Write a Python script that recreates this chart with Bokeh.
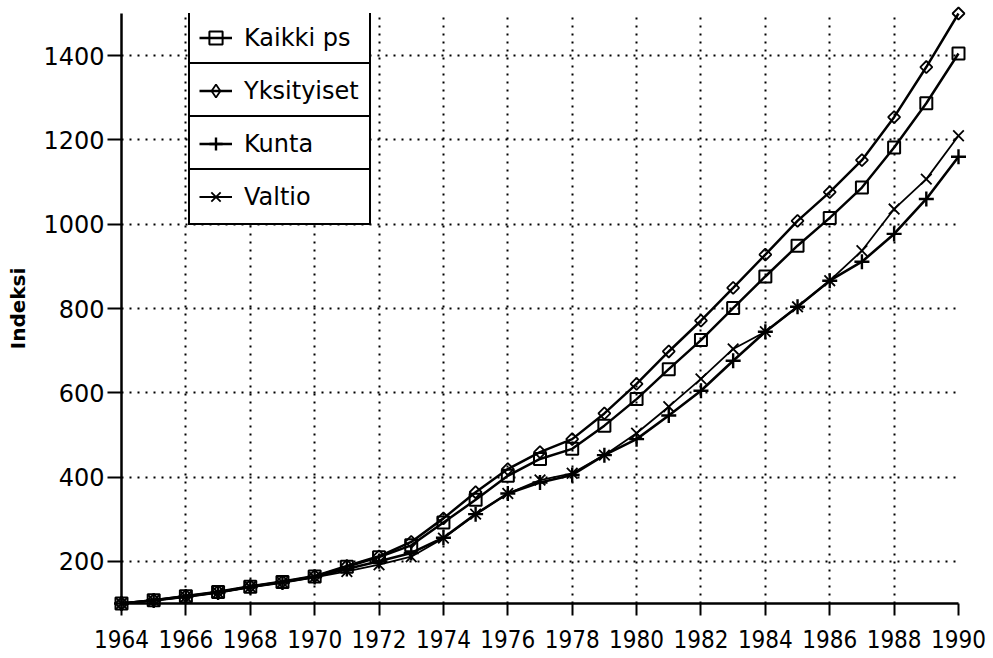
from bokeh.plotting import figure
from bokeh.models import Range1d, FixedTicker, Legend, LegendItem, ColumnDataSource
from bokeh.embed import file_html
from bokeh.resources import INLINE
import math

years = list(range(1964, 1991))
kaikki = [100, 108, 117, 127, 140, 151, 164, 187, 210, 238, 292, 346, 403, 443, 467,
          522, 585, 656, 725, 801, 876, 949, 1015, 1087, 1182, 1287, 1405]
yksityiset = [100, 108, 118, 128, 141, 152, 165, 189, 212, 246, 302, 364, 419, 459, 490,
              551, 621, 698, 771, 849, 928, 1008, 1076, 1152, 1254, 1373, 1500]
kunta = [100, 107, 116, 126, 139, 150, 163, 182, 200, 220, 256, 312, 361, 387, 405,
         452, 490, 546, 605, 676, 745, 804, 866, 911, 977, 1060, 1160]
valtio = [100, 107, 116, 126, 139, 150, 162, 176, 192, 211, 255, 312, 361, 393, 409,
          452, 504, 567, 633, 704, 745, 804, 866, 937, 1036, 1107, 1210]

x_ticks = [1964, 1966, 1968, 1970, 1972, 1974, 1976, 1978, 1980, 1982, 1984, 1986, 1988, 1990]
y_ticks = [200, 400, 600, 800, 1000, 1200, 1400]
labels = ["Kaikki ps", "Yksityiset", "Kunta", "Valtio"]
y_label = "Indeksi"

p = figure(width=990, height=655, output_backend="svg", toolbar_location=None,
           x_range=Range1d(1964, 1990), y_range=Range1d(100, 1500),
           min_border_left=121, min_border_right=32, min_border_top=13, min_border_bottom=52)
p.outline_line_color = None
p.background_fill_color = "white"

# axes
p.xaxis.ticker = FixedTicker(ticks=x_ticks)
p.yaxis.ticker = FixedTicker(ticks=y_ticks)
for ax in (p.xaxis, p.yaxis):
    ax.axis_line_color = "black"
    ax.axis_line_width = 2.5
    ax.major_tick_line_color = "black"
    ax.major_tick_line_width = 2
    ax.major_tick_in = 0
    ax.minor_tick_line_color = None
p.xaxis.major_tick_out = 12
p.yaxis.major_tick_out = 14
p.xaxis.major_label_text_font = "'DejaVu Sans Condensed', Roboto, sans-serif"
p.xaxis.major_label_text_font_size = "24px"
p.xaxis.major_label_standoff = 14
p.yaxis.major_label_text_font = "DejaVu Sans"
p.yaxis.major_label_text_font_size = "24px"
p.yaxis.major_label_standoff = 3
p.xaxis.major_label_text_color = "black"
p.yaxis.major_label_text_color = "black"
p.yaxis.axis_label = y_label
p.yaxis.axis_label_text_font = "DejaVu Sans"
p.yaxis.axis_label_text_font_style = "bold"
p.yaxis.axis_label_text_font_size = "20px"
p.yaxis.axis_label_text_color = "black"
p.yaxis.axis_label_standoff = 10

# grid
for g in (p.xgrid, p.ygrid):
    g.grid_line_color = "black"
    g.grid_line_width = 2
    g.grid_line_dash = "2 6"
    g.grid_line_alpha = 1.0

src = ColumnDataSource(dict(x=years, k=kaikki, y=yksityiset, ku=kunta, v=valtio))
# a source whose single point is NaN: draws nothing in the plot, only a legend glyph
legend_only = ColumnDataSource(dict(x=[years[0]], y=[float("nan")]))

series = [
    ("k", dict(marker="square", size=12, line_width=2, angle=0), 2.5, None),
    ("y", dict(marker="square", size=8.5, line_width=1.8, angle=math.pi / 4), 2.5,
     dict(marker="diamond", size=14, line_width=1.8)),
    ("ku", dict(marker="cross", size=15, line_width=2.4, angle=0), 2.6, None),
    ("v", dict(marker="x", size=15, line_width=1.8, angle=0), 1.8, None),
]

items = []
for (col, mk, lw, leg_mk), lab in zip(series, labels):
    lr = p.line("x", col, source=src, line_color="black", line_width=lw, level="overlay")
    sr = p.scatter("x", col, source=src, line_color="black", fill_color=None,
                   level="overlay", **mk)
    if leg_mk is not None:
        sr_leg = p.scatter("x", "y", source=legend_only, line_color="black",
                           fill_color=None, **leg_mk)
        items.append(LegendItem(label=lab, renderers=[lr, sr_leg]))
    else:
        items.append(LegendItem(label=lab, renderers=[lr, sr]))

row_h = 53
top_vy = 537
for i, it in enumerate(items):
    lg = Legend(items=[it], location=(67, top_vy - i * row_h),
                orientation="vertical", padding=9, margin=0, spacing=0,
                glyph_width=33, glyph_height=33, label_height=35,
                label_standoff=12, label_width=116,
                label_text_font="DejaVu Sans", label_text_font_size="24px",
                label_text_color="black",
                border_line_color="black", border_line_width=2.5, border_line_alpha=1.0,
                background_fill_color="white", background_fill_alpha=1.0)
    p.add_layout(lg)

open("out.html", "w").write(file_html(p, INLINE))
